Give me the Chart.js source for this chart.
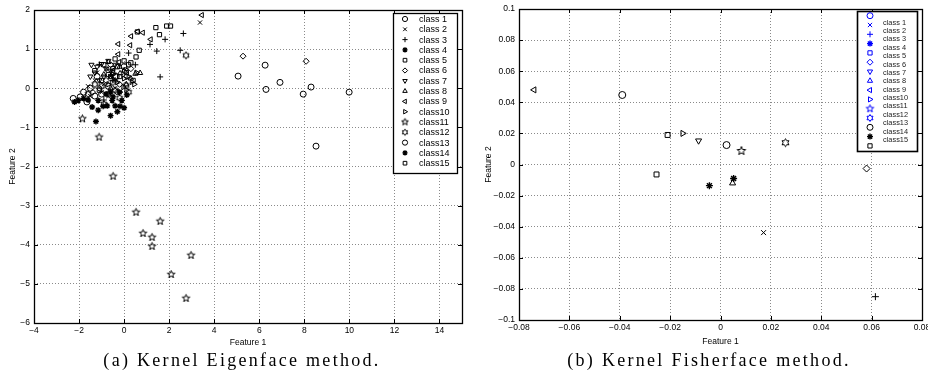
<!DOCTYPE html>
<html>
<head>
<meta charset="utf-8">
<script src="https://cdn.jsdelivr.net/npm/chart.js@4.4.1/dist/chart.umd.min.js"></script>
<style>
  body { margin: 0; background: #fff; width: 928px; height: 381px; overflow: hidden; position: relative; }
  #eigenChart { position: absolute; left: 0; top: 0; }
  #fisherChart { position: absolute; left: 470px; top: 0; }
  .caption { position: absolute; top: 350px; font-family: "Liberation Serif", serif; font-size: 18px;
             letter-spacing: 2.3px; white-space: nowrap; transform: translateX(-50%); color: #000; }
</style>
</head>
<body>
<canvas id="eigenChart" width="470" height="352"></canvas>
<canvas id="fisherChart" width="458" height="352"></canvas>
<div class="caption" style="left:242px">(a) Kernel Eigenface method.</div>
<div class="caption" style="left:709px">(b) Kernel Fisherface method.</div>
<script>
// class names (Yale faces, 15 subjects)
const classLabels = ['class 1', 'class 2', 'class 3', 'class 4', 'class 5', 'class 6', 'class 7', 'class 8',
    'class 9', 'class10', 'class11', 'class12', 'class13', 'class14', 'class15'];

// (a) kernel eigenface projection, one row per class
const eigenX = [
    [5.06, 6.26, 6.30, 6.92, 7.95, 8.30, 9.99, 8.52, 0.05, -0.35],
    [3.37, -1.3, -0.9, -1.0, -0.6, -1.5, -0.7, -1.2, -0.4, -0.8, -1.6],
    [2.63, 1.82, 1.15, 1.45, 2.49, 1.60, -1.10, -0.5, -0.9, 0.5, 0.2],
    [-0.53, -0.18, -0.49, -0.10, 0.12, -0.30, -0.80, 0.00, -0.60, -0.20, -0.40],
    [1.41, 1.89, 2.06, 0.59, 1.57, 0.67, 0.53, 0.30, -0.30, 0.10, -0.60],
    [5.28, 8.08, -0.5, -0.2, 0.1, -0.8, -1.1, -0.3, 0.3, -0.6, -1.4],
    [-1.45, -1.2, -1.0, -0.8, -1.3, -0.6, -1.5, -0.9, -0.4, -1.1, -0.7],
    [0.71, 0.50, -0.18, -0.70, -0.40, 0.10, -0.90, 0.30, -0.20, -0.60, 0.00],
    [3.45, 0.83, 1.18, 0.31, -0.26, 0.27, -0.26, -0.22, 0.60, -0.50],
    [0.55, 0.34, -0.03, 0.20, -0.30, 0.10, -0.50, 0.45, -0.20, 0.00, -0.70],
    [-1.85, -1.11, -0.49, 0.53, 1.60, 0.84, 1.24, 1.24, 2.97, 2.09, 2.75],
    [2.75, -0.40, 0.09, -0.70, -1.00, -0.20, -1.30, -0.50, 0.20, -0.90, -1.60],
    [-2.26, -1.95, -1.65, -1.30, -1.00, -0.70, -1.50, -1.80, -0.40, -1.20, 0.00],
    [-2.03, -1.80, -2.20, -1.42, -1.15, -0.93, -1.15, -0.60, -1.25, -0.75, -1.60],
    [-0.50, -1.00, -0.20, 0.20, -0.70, -1.30, 0.00, -0.90, -0.40, -1.10, 0.40]
];
const eigenY = [
    [0.31, 0.59, -0.03, 0.15, -0.15, 0.03, -0.10, -1.48, 0.45, 0.30],
    [1.68, 0.20, 0.10, -0.10, 0.30, -0.20, -0.20, 0.40, 0.00, 0.50, 0.05],
    [1.40, 1.25, 1.12, 0.95, 0.97, 0.29, 0.61, 0.20, -0.30, 0.60, 0.90],
    [-0.31, -0.46, -0.22, -0.31, -0.17, -0.60, -0.15, -0.50, -0.10, -0.10, -0.45],
    [1.55, 1.59, 1.59, 1.44, 1.37, 0.97, 0.80, 0.65, 0.55, 0.40, 0.30],
    [0.82, 0.69, 0.40, 0.10, 0.30, 0.20, 0.00, -0.10, 0.50, 0.60, -0.10],
    [0.60, 0.55, 0.62, 0.50, 0.40, 0.45, 0.30, 0.30, 0.60, 0.20, 0.70],
    [0.39, 0.37, 0.38, 0.67, 0.20, 0.10, 0.35, 0.25, 0.55, 0.00, 0.45],
    [1.87, 1.42, 1.25, 1.33, 1.13, 1.10, 0.87, 0.67, 1.45, 0.45],
    [0.40, 0.16, 0.03, 0.30, 0.15, -0.05, 0.35, 0.10, -0.10, 0.25, 0.10],
    [-0.78, -1.25, -2.25, -3.17, -3.40, -3.71, -3.81, -4.04, -4.27, -4.76, -5.37],
    [0.84, -0.05, 0.07, -0.15, 0.05, -0.25, 0.10, 0.15, -0.10, -0.40, -0.15],
    [-0.26, -0.22, -0.35, -0.20, -0.15, 0.05, 0.00, -0.10, 0.30, 0.30, 0.55],
    [-0.31, -0.26, -0.35, -0.48, -0.56, -0.46, -0.31, -0.70, -0.85, -0.45, -0.30],
    [0.50, 0.20, 0.30, 0.60, 0.35, 0.45, 0.70, 0.60, 0.75, -0.05, 0.20]
];

// (b) kernel fisherface projection, one point per class
const fisherX = [-0.039, 0.0171, 0.0615, 0.0052, -0.0254, 0.058, -0.0087, 0.0048,
    -0.0740, -0.0150, 0.0083, 0.0258, 0.0024, -0.0044, -0.0210];
const fisherY = [0.0447, -0.0438, -0.0850, -0.0090, -0.0064, -0.0026, 0.0153, -0.0120,
    0.0480, 0.0200, 0.0087, 0.0140, 0.0125, -0.0136, 0.0190];

const eigenXTicks = [-4, -2, 0, 2, 4, 6, 8, 10, 12, 14];
const eigenYTicks = [-6, -5, -4, -3, -2, -1, 0, 1, 2];
const fisherXTicks = [-0.08, -0.06, -0.04, -0.02, 0, 0.02, 0.04, 0.06, 0.08];
const fisherYTicks = [-0.1, -0.08, -0.06, -0.04, -0.02, 0, 0.02, 0.04, 0.06, 0.08, 0.1];

// matlab-like marker per class
const markerKinds = ['circle', 'crossRot', 'cross', 'star', 'rect', 'rectRot', 'down', 'triangle',
    'left', 'right', 'penta', 'hexa', 'circle', 'star', 'rect'];

Chart.defaults.font.family = '"Liberation Sans", Arial, sans-serif';
Chart.defaults.color = '#000';

function starCanvas(color, r, n) {
    const size = Math.ceil(2 * r + 3);
    const c = document.createElement('canvas');
    c.width = c.height = size;
    const g = c.getContext('2d');
    g.strokeStyle = color;
    g.lineWidth = 1;
    g.translate(size / 2, size / 2);
    g.beginPath();
    const inner = n === 5 ? 0.42 : 0.58;
    for (let k = 0; k < 2 * n; k++) {
        const rr = k % 2 ? r * inner : r;
        const a = -Math.PI / 2 + k * Math.PI / n;
        if (k === 0) g.moveTo(rr * Math.cos(a), rr * Math.sin(a));
        else g.lineTo(rr * Math.cos(a), rr * Math.sin(a));
    }
    g.closePath();
    g.stroke();
    return c;
}

function markerStyle(kind, color, r) {
    switch (kind) {
        case 'down': return { pointStyle: 'triangle', rotation: 180 };
        case 'left': return { pointStyle: 'triangle', rotation: 270 };
        case 'right': return { pointStyle: 'triangle', rotation: 90 };
        case 'penta': return { pointStyle: starCanvas(color, r + 1, 5), rotation: 0 };
        case 'hexa': return { pointStyle: starCanvas(color, r + 0.5, 6), rotation: 0 };
        default: return { pointStyle: kind, rotation: 0 };
    }
}

function buildDatasets(xs, ys, radius) {
    return classLabels.map(function (label, i) {
        const st = markerStyle(markerKinds[i], '#000', radius);
        const px = Array.isArray(xs[i]) ? xs[i] : [xs[i]];
        const py = Array.isArray(ys[i]) ? ys[i] : [ys[i]];
        return {
            label: label,
            data: px.map(function (x, j) { return { x: x, y: py[j] }; }),
            pointStyle: st.pointStyle,
            pointRotation: st.rotation,
            pointRadius: radius,
            pointBorderColor: '#000',
            pointBackgroundColor: 'rgba(0,0,0,0)',
            pointBorderWidth: markerKinds[i] === 'star' ? 1.4 : 1,
            showLine: false
        };
    });
}

// box around the axes plus small inward tick marks
const framePlugin = {
    id: 'frame',
    afterDatasetsDraw(chart) {
        const a = chart.chartArea;
        const ctx = chart.ctx;
        ctx.save();
        ctx.strokeStyle = '#000';
        ctx.lineWidth = 1;
        ctx.beginPath();
        chart.scales.x.ticks.forEach(function (t) {
            const p = Math.round(chart.scales.x.getPixelForValue(t.value)) + 0.5;
            ctx.moveTo(p, a.bottom); ctx.lineTo(p, a.bottom - 4);
            ctx.moveTo(p, a.top); ctx.lineTo(p, a.top + 4);
        });
        chart.scales.y.ticks.forEach(function (t) {
            const p = Math.round(chart.scales.y.getPixelForValue(t.value)) + 0.5;
            ctx.moveTo(a.left, p); ctx.lineTo(a.left + 4, p);
            ctx.moveTo(a.right, p); ctx.lineTo(a.right - 4, p);
        });
        ctx.stroke();
        ctx.lineWidth = 1.3;
        ctx.strokeRect(Math.round(a.left) + 0.5, Math.round(a.top) + 0.5,
            Math.round(a.right - a.left), Math.round(a.bottom - a.top));
        ctx.restore();
    }
};

function makeLegendPlugin(cfg) {
    return {
        id: 'classLegend',
        afterDraw(chart) {
            const ctx = chart.ctx;
            ctx.save();
            ctx.fillStyle = '#fff';
            ctx.fillRect(cfg.box[0], cfg.box[1], cfg.box[2] - cfg.box[0], cfg.box[3] - cfg.box[1]);
            ctx.strokeStyle = '#000';
            ctx.lineWidth = cfg.boxWidth;
            ctx.strokeRect(cfg.box[0] + 0.5, cfg.box[1] + 0.5, cfg.box[2] - cfg.box[0], cfg.box[3] - cfg.box[1]);
            chart.data.datasets.forEach(function (ds, i) {
                const color = cfg.markerColors[i];
                const st = markerStyle(markerKinds[i], color, cfg.radius);
                ctx.strokeStyle = color;
                ctx.fillStyle = 'rgba(0,0,0,0)';
                ctx.lineWidth = markerKinds[i] === 'star' ? 1.4 : 1;
                Chart.helpers.drawPoint(ctx, {
                    pointStyle: st.pointStyle, rotation: st.rotation, radius: cfg.radius, borderWidth: 1
                }, cfg.markerX, cfg.markerY0 + i * cfg.markerStep);
                ctx.fillStyle = cfg.textColor;
                ctx.font = cfg.font;
                ctx.textBaseline = 'middle';
                ctx.textAlign = 'left';
                ctx.fillText(ds.label, cfg.textX, cfg.textY0 + i * cfg.textStep);
            });
            ctx.restore();
        }
    };
}

function fixedTicks(list) {
    return function (scale) {
        scale.ticks = list.map(function (v) { return { value: v }; });
    };
}

function fmt(v) {
    return String(+v.toFixed(3)).replace('-', '\u2212');
}

function axisOptions(opts) {
    return {
        type: 'linear',
        min: opts.min,
        max: opts.max,
        afterBuildTicks: fixedTicks(opts.ticks),
        afterFit: opts.afterFit,
        grid: { color: '#8a8a8a', lineWidth: 1, drawTicks: false },
        border: { display: false, dash: [1, 2] },
        ticks: {
            padding: opts.padding,
            font: { size: 8.5 },
            color: '#000',
            maxRotation: 0,
            autoSkip: false,
            callback: function (v) { return fmt(v); }
        },
        title: {
            display: true,
            text: opts.title,
            font: { size: 8.5 },
            color: '#000',
            padding: opts.titlePadding
        }
    };
}

const blueMarkers = classLabels.map(function (_, i) { return i < 12 ? '#0000ff' : '#000'; });
const blackMarkers = classLabels.map(function () { return '#000'; });

new Chart(document.getElementById('eigenChart'), {
    type: 'scatter',
    data: { datasets: buildDatasets(eigenX, eigenY, 3) },
    options: {
        responsive: false,
        animation: false,
        events: [],
        layout: { padding: { top: 10, right: 8, left: 0, bottom: 0 } },
        plugins: { legend: { display: false }, tooltip: { enabled: false } },
        scales: {
            x: axisOptions({
                min: -4, max: 15, ticks: eigenXTicks, padding: 3, title: 'Feature 1',
                titlePadding: { top: 0, bottom: 4 },
                afterFit: function (s) { s.height = 29; s.paddingLeft = 0; s.paddingRight = 0; }
            }),
            y: axisOptions({
                min: -6, max: 2, ticks: eigenYTicks, padding: 4, title: 'Feature 2',
                titlePadding: { top: 8, bottom: 0 },
                afterFit: function (s) { s.width = 34; s.paddingTop = 0; s.paddingBottom = 0; }
            })
        }
    },
    plugins: [framePlugin, makeLegendPlugin({
        box: [393, 13, 457, 173], boxWidth: 1.3, radius: 2.6,
        markerColors: blackMarkers, markerX: 405, markerY0: 19, markerStep: 10.3,
        textX: 419, textY0: 19.5, textStep: 10.3,
        font: '9px "Liberation Sans", Arial, sans-serif', textColor: '#000'
    })]
});

new Chart(document.getElementById('fisherChart'), {
    type: 'scatter',
    data: { datasets: buildDatasets(fisherX, fisherY, 3.5) },
    options: {
        responsive: false,
        animation: false,
        events: [],
        layout: { padding: { top: 9, right: 6, left: 0, bottom: 0 } },
        plugins: { legend: { display: false }, tooltip: { enabled: false } },
        scales: {
            x: axisOptions({
                min: -0.08, max: 0.08, ticks: fisherXTicks, padding: 3, title: 'Feature 1',
                titlePadding: { top: 0, bottom: 5 },
                afterFit: function (s) { s.height = 32; s.paddingLeft = 0; s.paddingRight = 0; }
            }),
            y: axisOptions({
                min: -0.1, max: 0.1, ticks: fisherYTicks, padding: 4, title: 'Feature 2',
                titlePadding: { top: 14, bottom: 0 },
                afterFit: function (s) { s.width = 49; s.paddingTop = 0; s.paddingBottom = 0; }
            })
        }
    },
    plugins: [framePlugin, makeLegendPlugin({
        box: [387, 11, 447, 151], boxWidth: 1.6, radius: 3,
        markerColors: blueMarkers, markerX: 400, markerY0: 15.7, markerStep: 9.3,
        textX: 413, textY0: 22.7, textStep: 8.37,
        font: '7.4px "Liberation Sans", Arial, sans-serif', textColor: '#222'
    })]
});
</script>
</body>
</html>
